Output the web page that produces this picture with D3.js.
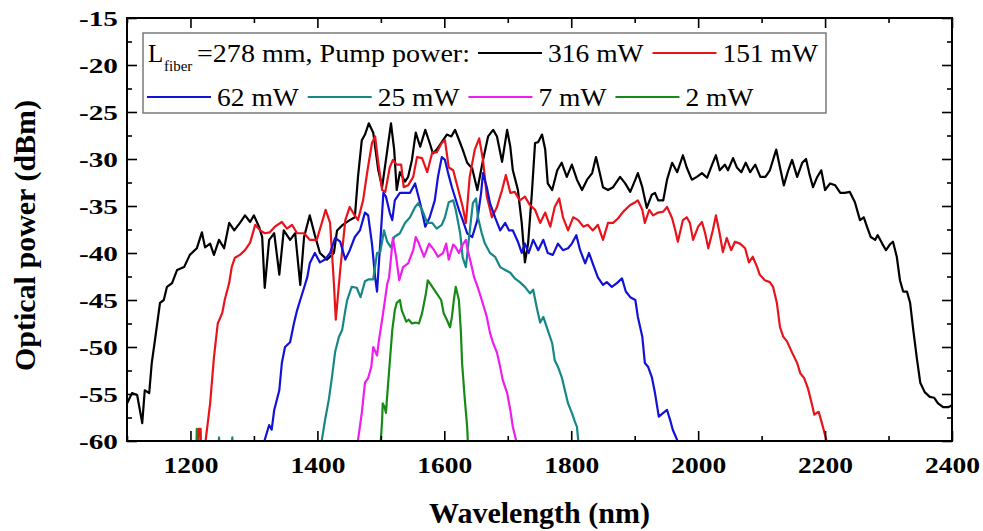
<!DOCTYPE html>
<html>
<head>
<meta charset="utf-8">
<script src="https://cdn.jsdelivr.net/npm/d3@7"></script>
<style>
  body { margin: 0; background: #fff; }
  text { font-family: "Liberation Serif", "Times New Roman", serif; }
</style>
</head>
<body>
<svg id="chart" width="983" height="531"></svg>
<script>
// Supercontinuum spectra for a 278 mm fiber at several pump powers
const wavelengthTicks = [1200, 1400, 1600, 1800, 2000, 2200, 2400];
const wavelengthMinorTicks = [1100, 1300, 1500, 1700, 1900, 2100, 2300];
const powerTicks = [-60, -55, -50, -45, -40, -35, -30, -25, -20, -15];
const powerMinorTicks = [-57.5, -52.5, -47.5, -42.5, -37.5, -32.5, -27.5, -22.5, -17.5];
const pumpLabels = ["316 mW", "151 mW", "62 mW", "25 mW", "7 mW", "2 mW"];
const seriesColors = ["#000000", "#e8141c", "#1212d6", "#168787", "#ee1eee", "#178a17"];

// [wavelength (nm), optical power (dBm)]
const spectrum316 = [[1100,-56.0],[1108,-54.9],[1116,-55.1],[1124,-58.1],[1128,-54.6],[1135,-54.9],[1139,-51.7],[1144,-49.3],[1152,-45.3],[1158,-45.0],[1163,-43.6],[1171,-43.2],[1179,-41.8],[1190,-41.5],[1199,-40.2],[1210,-39.5],[1218,-37.8],[1223,-39.4],[1231,-39.0],[1237,-40.2],[1245,-38.6],[1253,-39.5],[1261,-36.8],[1269,-37.6],[1278,-36.8],[1286,-36.0],[1294,-36.7],[1300,-36.0],[1308,-37.2],[1313,-38.3],[1317,-43.7],[1324,-38.6],[1332,-37.9],[1340,-42.3],[1347,-37.6],[1357,-38.6],[1365,-37.9],[1373,-43.4],[1379,-38.3],[1388,-36.0],[1396,-38.1],[1404,-40.0],[1415,-40.7],[1426,-40.0],[1431,-37.6],[1440,-37.0],[1451,-36.5],[1459,-36.2],[1464,-31.9],[1470,-28.0],[1475,-27.4],[1481,-26.2],[1488,-27.2],[1496,-31.2],[1502,-33.0],[1508,-30.1],[1516,-26.2],[1521,-29.0],[1525,-33.3],[1530,-31.4],[1538,-32.4],[1543,-31.9],[1549,-30.1],[1555,-27.2],[1562,-28.7],[1570,-26.9],[1577,-28.3],[1582,-29.4],[1588,-29.0],[1596,-28.2],[1604,-27.4],[1611,-27.6],[1617,-26.9],[1625,-28.3],[1629,-29.0],[1636,-30.4],[1644,-31.0],[1652,-33.3],[1661,-30.1],[1669,-27.6],[1677,-26.9],[1683,-27.6],[1691,-30.3],[1699,-26.9],[1704,-28.7],[1708,-31.2],[1716,-33.3],[1722,-36.8],[1727,-41.0],[1732,-39.0],[1738,-33.6],[1743,-28.3],[1748,-28.2],[1754,-27.4],[1759,-29.0],[1763,-32.6],[1770,-33.3],[1778,-31.2],[1785,-30.4],[1793,-31.9],[1801,-30.6],[1809,-32.2],[1817,-33.3],[1825,-32.2],[1833,-31.5],[1839,-29.8],[1845,-31.5],[1850,-33.0],[1858,-33.3],[1866,-33.0],[1877,-31.9],[1885,-32.6],[1893,-33.5],[1901,-32.2],[1905,-31.5],[1912,-33.0],[1919,-35.2],[1927,-33.8],[1932,-33.6],[1937,-34.4],[1945,-34.4],[1951,-32.2],[1959,-30.4],[1967,-31.4],[1976,-29.6],[1982,-30.9],[1990,-32.2],[1998,-31.9],[2006,-31.5],[2014,-32.0],[2022,-30.6],[2028,-29.6],[2034,-31.2],[2042,-30.6],[2047,-31.2],[2055,-29.9],[2061,-30.9],[2068,-31.4],[2075,-30.4],[2082,-31.4],[2090,-30.6],[2098,-31.9],[2106,-31.9],[2113,-31.2],[2123,-29.0],[2129,-30.9],[2135,-32.8],[2142,-31.2],[2148,-30.1],[2156,-31.9],[2164,-30.4],[2170,-30.0],[2175,-31.5],[2181,-33.0],[2187,-32.0],[2194,-31.2],[2200,-33.3],[2208,-32.6],[2216,-32.8],[2224,-33.6],[2231,-33.6],[2239,-33.5],[2247,-34.6],[2255,-36.5],[2261,-36.2],[2266,-37.2],[2272,-38.3],[2279,-38.6],[2283,-38.1],[2290,-39.0],[2296,-39.7],[2302,-39.1],[2307,-38.8],[2313,-40.4],[2318,-42.9],[2323,-44.1],[2329,-44.1],[2334,-45.3],[2339,-48.2],[2345,-51.4],[2350,-53.8],[2357,-54.8],[2365,-55.3],[2372,-55.4],[2378,-56.0],[2386,-56.4],[2394,-56.4],[2400,-56.2]];

const spectrum151 = [[1211,-65],[1213,-58.7],[1216,-58.7],[1218,-65],[1222,-65],[1224,-59.9],[1231,-56.0],[1237,-51.1],[1243,-47.5],[1250,-46.4],[1254,-45.0],[1261,-43.2],[1265,-41.5],[1270,-40.5],[1278,-40.2],[1286,-39.7],[1294,-38.9],[1302,-37.0],[1310,-37.6],[1317,-37.9],[1325,-37.8],[1333,-37.2],[1344,-36.7],[1352,-37.4],[1360,-37.0],[1368,-37.9],[1379,-37.9],[1388,-38.6],[1399,-38.6],[1407,-36.8],[1413,-35.4],[1420,-36.8],[1426,-43.2],[1429,-47.1],[1436,-41.8],[1444,-36.5],[1451,-35.1],[1456,-35.7],[1464,-36.5],[1472,-34.4],[1479,-31.2],[1486,-28.3],[1491,-27.6],[1496,-30.4],[1502,-33.3],[1507,-33.5],[1514,-30.9],[1519,-30.1],[1525,-30.6],[1532,-30.6],[1536,-33.0],[1543,-32.8],[1551,-31.9],[1557,-29.8],[1565,-29.9],[1573,-31.4],[1581,-29.3],[1588,-29.3],[1596,-28.3],[1601,-28.0],[1607,-30.9],[1614,-31.2],[1621,-33.0],[1629,-35.1],[1634,-36.8],[1640,-31.9],[1648,-29.0],[1655,-27.8],[1661,-30.1],[1667,-34.0],[1675,-36.2],[1683,-35.1],[1691,-33.3],[1697,-31.7],[1704,-33.6],[1711,-33.5],[1719,-34.4],[1727,-34.0],[1735,-34.9],[1743,-35.4],[1751,-36.8],[1759,-35.7],[1767,-37.2],[1774,-35.1],[1781,-34.2],[1787,-36.2],[1795,-37.6],[1803,-36.2],[1811,-36.5],[1819,-37.2],[1826,-37.0],[1834,-37.6],[1842,-37.0],[1850,-38.6],[1858,-36.8],[1866,-36.8],[1874,-36.3],[1882,-35.6],[1893,-34.9],[1901,-34.6],[1905,-34.4],[1912,-35.4],[1916,-36.8],[1923,-35.4],[1929,-36.0],[1937,-35.7],[1945,-35.6],[1951,-35.1],[1959,-36.3],[1964,-37.6],[1968,-38.8],[1976,-36.5],[1982,-36.2],[1987,-36.8],[1992,-38.6],[2000,-37.2],[2006,-36.7],[2011,-37.9],[2016,-39.5],[2023,-37.6],[2028,-36.0],[2033,-37.6],[2039,-39.9],[2045,-38.4],[2052,-39.7],[2058,-38.8],[2066,-39.0],[2074,-39.5],[2080,-41.0],[2086,-40.4],[2093,-41.5],[2097,-42.3],[2105,-42.9],[2113,-43.1],[2118,-43.6],[2124,-45.3],[2129,-47.9],[2134,-48.9],[2140,-49.4],[2148,-50.6],[2156,-51.7],[2161,-52.8],[2167,-53.3],[2173,-54.4],[2179,-56.0],[2183,-57.2],[2187,-57.0],[2190,-56.9],[2195,-58.1],[2202,-59.9],[2205,-65]];

const spectrum62 = [[1316,-62],[1317,-59.9],[1324,-58.3],[1328,-58.8],[1332,-56.7],[1340,-54.6],[1344,-51.7],[1349,-50.0],[1357,-49.5],[1363,-47.5],[1368,-46.1],[1373,-45.0],[1379,-43.7],[1384,-42.6],[1388,-41.1],[1396,-40.0],[1404,-41.0],[1412,-40.7],[1420,-40.0],[1428,-38.4],[1436,-38.8],[1444,-40.7],[1451,-39.7],[1459,-38.3],[1467,-37.6],[1475,-35.7],[1480,-36.0],[1486,-39.0],[1491,-42.6],[1494,-44.1],[1499,-39.0],[1504,-33.6],[1508,-34.0],[1514,-35.7],[1518,-36.5],[1522,-34.4],[1530,-33.6],[1538,-33.6],[1546,-33.6],[1554,-32.6],[1562,-34.7],[1570,-37.2],[1577,-36.2],[1585,-34.4],[1590,-31.9],[1596,-29.8],[1601,-30.1],[1606,-31.5],[1612,-33.0],[1617,-34.1],[1623,-35.4],[1629,-36.5],[1636,-37.9],[1644,-38.3],[1652,-36.5],[1658,-33.6],[1661,-31.5],[1667,-33.0],[1672,-34.7],[1680,-36.2],[1688,-37.6],[1696,-36.8],[1702,-37.6],[1708,-37.6],[1716,-38.8],[1722,-40.0],[1727,-39.0],[1733,-40.0],[1740,-38.6],[1748,-39.7],[1756,-38.6],[1763,-40.0],[1771,-40.2],[1779,-39.0],[1787,-39.7],[1795,-39.5],[1801,-39.0],[1808,-38.1],[1814,-39.7],[1822,-41.1],[1828,-40.0],[1836,-41.5],[1842,-42.6],[1850,-43.4],[1856,-43.1],[1864,-43.6],[1872,-43.2],[1880,-42.7],[1886,-44.1],[1893,-44.7],[1901,-45.0],[1905,-46.8],[1912,-48.9],[1916,-51.7],[1921,-52.1],[1927,-53.2],[1932,-54.9],[1938,-57.4],[1945,-57.0],[1951,-56.7],[1956,-57.8],[1960,-58.8],[1967,-59.9],[1970,-62]];

const spectrum25 = [[1243,-62],[1245,-59.6],[1247,-62],[1264,-62],[1266,-59.6],[1268,-62],[1405,-62],[1407,-59.9],[1412,-57.8],[1418,-55.6],[1423,-53.2],[1428,-50.5],[1434,-48.9],[1439,-48.2],[1444,-46.1],[1447,-45.0],[1454,-43.6],[1462,-43.7],[1468,-44.7],[1475,-43.0],[1481,-42.8],[1488,-42.8],[1494,-40.0],[1499,-39.9],[1505,-37.6],[1510,-38.8],[1516,-39.4],[1521,-38.3],[1530,-37.9],[1538,-36.8],[1546,-36.2],[1554,-35.1],[1559,-34.7],[1565,-35.4],[1573,-36.8],[1581,-36.8],[1588,-37.4],[1596,-37.0],[1601,-36.2],[1607,-34.6],[1614,-34.4],[1618,-35.4],[1625,-37.9],[1629,-40.5],[1634,-41.5],[1639,-38.3],[1645,-34.7],[1650,-34.2],[1653,-36.2],[1659,-37.9],[1664,-39.0],[1672,-40.0],[1680,-40.4],[1688,-41.5],[1696,-41.8],[1704,-42.1],[1711,-42.7],[1719,-43.1],[1727,-43.6],[1735,-44.3],[1740,-43.9],[1746,-45.9],[1751,-47.4],[1756,-46.8],[1763,-48.2],[1770,-49.6],[1774,-51.4],[1779,-52.1],[1785,-53.2],[1790,-54.6],[1795,-56.0],[1801,-57.0],[1806,-58.0],[1809,-58.5],[1811,-59.9],[1813,-62]];

const spectrum7 = [[1463,-62],[1464,-59.9],[1470,-57.0],[1475,-53.8],[1480,-53.3],[1485,-52.1],[1488,-50.0],[1494,-50.9],[1497,-49.3],[1502,-47.1],[1505,-45.7],[1510,-43.3],[1513,-42.6],[1519,-38.4],[1524,-40.4],[1529,-42.9],[1535,-41.5],[1543,-41.1],[1551,-39.7],[1555,-38.3],[1560,-39.0],[1568,-40.4],[1576,-39.0],[1584,-39.7],[1590,-40.4],[1598,-40.0],[1603,-39.0],[1607,-40.7],[1614,-39.1],[1618,-39.4],[1623,-40.0],[1629,-39.1],[1634,-38.6],[1637,-39.7],[1642,-41.1],[1647,-42.6],[1652,-43.5],[1659,-45.0],[1667,-46.8],[1672,-48.5],[1677,-49.6],[1683,-50.6],[1688,-52.1],[1692,-53.5],[1699,-54.9],[1704,-56.7],[1708,-58.5],[1713,-59.9],[1715,-62]];

const spectrum2 = [[1209,-62],[1210,-58.7],[1212,-62],[1498,-62],[1500,-59.9],[1502,-57.8],[1503,-56.0],[1506,-56.4],[1508,-57.0],[1511,-54.3],[1514,-51.7],[1518,-48.2],[1522,-46.1],[1525,-45.3],[1530,-45.0],[1533,-46.1],[1540,-47.3],[1544,-47.1],[1549,-47.5],[1555,-47.4],[1560,-47.5],[1565,-46.4],[1571,-44.3],[1574,-42.9],[1579,-43.4],[1584,-43.9],[1588,-44.3],[1595,-45.0],[1599,-46.4],[1604,-47.1],[1609,-47.9],[1612,-46.8],[1615,-45.0],[1618,-43.6],[1623,-45.0],[1626,-48.2],[1628,-51.7],[1632,-55.3],[1636,-58.5],[1637,-59.9],[1639,-62]];

const allSpectra = [spectrum316, spectrum151, spectrum62, spectrum25, spectrum7, spectrum2];

const svg = d3.select("#chart");
const plot = { left: 127, right: 952, top: 18, bottom: 441 };

const x = d3.scaleLinear().domain([1100, 2400]).range([plot.left, plot.right]);
const y = d3.scaleLinear().domain([-60, -15]).range([plot.bottom, plot.top]);

// clip region for the spectra
svg.append("defs").append("clipPath").attr("id", "plotClip")
  .append("rect")
  .attr("x", plot.left).attr("y", plot.top)
  .attr("width", plot.right - plot.left).attr("height", plot.bottom - plot.top);

// spectra
const line = d3.line().x(d => x(d[0])).y(d => y(d[1]));
svg.append("g").attr("clip-path", "url(#plotClip)")
  .selectAll("path").data(allSpectra).join("path")
  .attr("d", line)
  .attr("fill", "none")
  .attr("stroke", (d, i) => seriesColors[i])
  .attr("stroke-width", 2.2)
  .attr("stroke-linejoin", "round");

// inward ticks on all four sides
function tickAxis(axisFn, scale, values, size, transform) {
  const g = svg.append("g").attr("transform", transform)
    .call(axisFn(scale).tickValues(values).tickSizeInner(-size).tickSizeOuter(0).tickFormat(""));
  g.select(".domain").remove();
  g.selectAll(".tick line").attr("stroke", "#000").attr("stroke-width", 1.6);
  return g;
}
const bottomAxis = tickAxis(d3.axisBottom, x, wavelengthTicks, 10, `translate(0,${plot.bottom})`);
tickAxis(d3.axisBottom, x, wavelengthMinorTicks, 5, `translate(0,${plot.bottom})`);
tickAxis(d3.axisTop, x, wavelengthTicks, 10, `translate(0,${plot.top})`);
tickAxis(d3.axisTop, x, wavelengthMinorTicks, 5, `translate(0,${plot.top})`);
const leftAxis = tickAxis(d3.axisLeft, y, powerTicks, 10, `translate(${plot.left},0)`);
tickAxis(d3.axisLeft, y, powerMinorTicks, 5, `translate(${plot.left},0)`);
tickAxis(d3.axisRight, y, powerTicks, 10, `translate(${plot.right},0)`);
tickAxis(d3.axisRight, y, powerMinorTicks, 5, `translate(${plot.right},0)`);

// tick labels
bottomAxis.selectAll(".tick text")
  .text(d => String(d))
  .attr("y", 0).attr("dy", 0).attr("transform", "translate(0,32)")
  .attr("fill", "#000").attr("font-size", 24).attr("font-weight", "bold")
  .attr("font-family", "Liberation Serif, Times New Roman, serif")
  .attr("textLength", 55).attr("lengthAdjust", "spacingAndGlyphs");
leftAxis.selectAll(".tick text")
  .text(d => String(d))
  .attr("x", -9).attr("dy", "0.35em")
  .attr("fill", "#000").attr("font-size", 21).attr("font-weight", "bold")
  .attr("font-family", "Liberation Serif, Times New Roman, serif")
  .attr("textLength", 39).attr("lengthAdjust", "spacingAndGlyphs");

// frame
svg.append("rect")
  .attr("x", plot.left).attr("y", plot.top)
  .attr("width", plot.right - plot.left).attr("height", plot.bottom - plot.top)
  .attr("fill", "none").attr("stroke", "#000").attr("stroke-width", 2);

// axis titles
svg.append("text")
  .attr("x", (plot.left + plot.right) / 2).attr("y", 523)
  .attr("text-anchor", "middle").attr("font-size", 30).attr("font-weight", "bold")
  .text("Wavelength (nm)");
svg.append("text")
  .attr("transform", `translate(35,${(plot.top + plot.bottom) / 2 + 6}) rotate(-90)`)
  .attr("text-anchor", "middle").attr("font-size", 30).attr("font-weight", "bold")
  .text("Optical power (dBm)");

// legend
const legend = svg.append("g");
legend.append("rect")
  .attr("x", 143).attr("y", 33).attr("width", 683).attr("height", 80)
  .attr("fill", "#fff").attr("stroke", "#7a7a7a").attr("stroke-width", 1.5);

const fs = 25, stretch = 1.1;
function stretchedText(sel) {
  const w = sel.node().getComputedTextLength();
  sel.attr("textLength", w * stretch).attr("lengthAdjust", "spacingAndGlyphs");
  return w * stretch;
}
legend.append("text").attr("x", 148).attr("y", 62).attr("font-size", fs).text("L");
legend.append("text").attr("x", 164).attr("y", 71).attr("font-size", 15).text("fiber");
const head = legend.append("text").attr("x", 197).attr("y", 62).attr("font-size", fs).text("=278 mm, Pump power:");
head.attr("textLength", 273).attr("lengthAdjust", "spacingAndGlyphs");

const rows = [
  { start: 478, lineY: 53, baseY: 62, items: [0, 1] },
  { start: 147, lineY: 97, baseY: 106, items: [2, 3, 4, 5] }
];
rows.forEach(row => {
  let cx = row.start;
  row.items.forEach(i => {
    legend.append("line")
      .attr("x1", cx).attr("x2", cx + 64)
      .attr("y1", row.lineY).attr("y2", row.lineY)
      .attr("stroke", seriesColors[i]).attr("stroke-width", 2.2);
    cx += 70;
    const t = legend.append("text").attr("x", cx).attr("y", row.baseY)
      .attr("font-size", fs).text(pumpLabels[i]);
    cx += stretchedText(t) + 9;
  });
});
</script>
</body>
</html>
